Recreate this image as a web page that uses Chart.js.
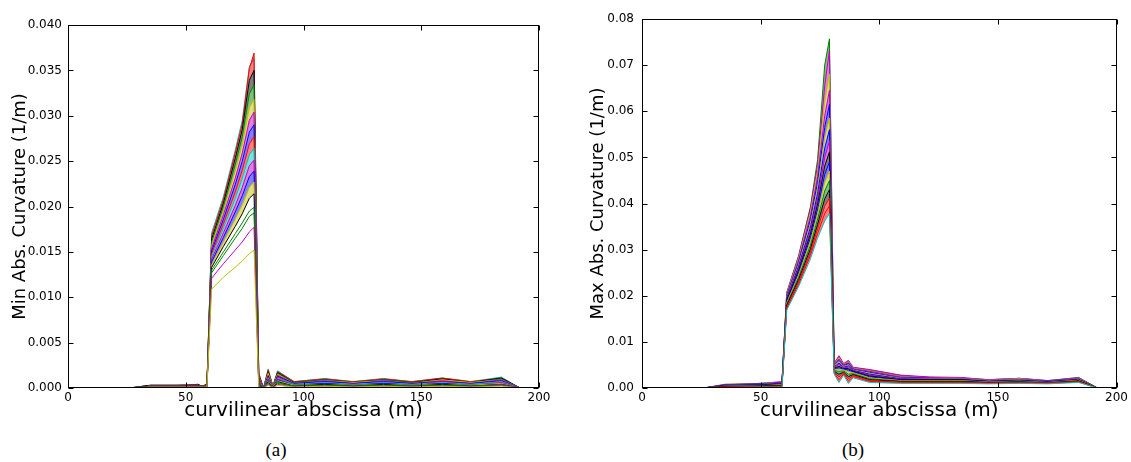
<!DOCTYPE html>
<html>
<head>
<meta charset="utf-8">
<script src="https://cdn.jsdelivr.net/npm/chart.js@4.4.1/dist/chart.umd.min.js"></script>
<style>
  html, body { margin: 0; padding: 0; background: #fff; }
  body { width: 1131px; height: 462px; position: relative; overflow: hidden; }
  .panel { position: absolute; top: 0; height: 430px; }
  .cap { position: absolute; top: 439px; font-family: "Liberation Serif", "DejaVu Serif", serif; font-size: 19px; color: #000; transform: translateX(-50%); }
</style>
</head>
<body>
<div class="panel" style="left:0;width:565px"><canvas id="chartA" width="565" height="430" style="width:565px;height:430px"></canvas></div>
<div class="panel" style="left:565px;width:566px"><canvas id="chartB" width="566" height="430" style="width:566px;height:430px"></canvas></div>
<div class="cap" style="left:276px">(a)</div>
<div class="cap" style="left:853px">(b)</div>
<script>
// abscissa nodes (m), shared by every curve
const abscissa = [0, 26, 35, 50, 55, 57, 59, 61, 66, 71, 74, 77, 79, 81, 83, 85, 87, 89, 96, 109, 121, 134, 146, 159, 171, 184, 192];

// matplotlib classic colours
const B = '#0000ff', G = '#008000', R = '#ff0000', C = '#00bfbf', M = '#bf00bf', Y = '#bfbf00', K = '#000000';

// (a) min abs. curvature, lowest curve first
const minCurvColors = [Y, M, G, G, K, Y, B, M, C, R, B, M, Y, G, K, R, C];
const minCurv = [
  [0,0,0.0001,0.0001,0.0001,0.0001,0.0001, 0.0109,0.0122,0.0133,0.0140,0.0148,0.0152, 0,0,0.0003,0,0.0003,0.0001,0.0002,0.0001,0.0002,0.0001,0.0002,0.0001,0.0002,0],
  [0,0,0.0001,0.0001,0.0001,0.0001,0.0001, 0.0121,0.0137,0.0152,0.0161,0.0172,0.0177, 0.0001,0,0.0004,0,0.0004,0.0001,0.0002,0.0001,0.0002,0.0001,0.0002,0.0001,0.0003,0],
  [0,0,0.0001,0.0001,0.0001,0.0001,0.0001, 0.0127,0.0146,0.0165,0.0176,0.0189,0.0193, 0.0002,0,0.0005,0,0.0005,0.0002,0.0003,0.0002,0.0003,0.0002,0.0003,0.0002,0.0003,0],
  [0,0,0.0001,0.0001,0.0001,0.0001,0.0001, 0.0130,0.0150,0.0170,0.0182,0.0195,0.0199, 0.0003,0,0.0006,0,0.0006,0.0002,0.0003,0.0002,0.0003,0.0002,0.0003,0.0002,0.0004,0],
  [0,0,0.0002,0.0002,0.0002,0.0002,0.0002, 0.0133,0.0156,0.0178,0.0192,0.0209,0.0214, 0.0004,0,0.0007,0,0.0007,0.0002,0.0004,0.0002,0.0004,0.0002,0.0004,0.0002,0.0004,0],
  [0,0,0.0002,0.0002,0.0002,0.0002,0.0002, 0.0136,0.0161,0.0186,0.0202,0.0221,0.0227, 0.0005,0,0.0008,0.0001,0.0008,0.0003,0.0004,0.0003,0.0004,0.0003,0.0004,0.0003,0.0005,0],
  [0,0,0.0002,0.0002,0.0002,0.0002,0.0002, 0.0139,0.0166,0.0194,0.0212,0.0233,0.0239, 0.0006,0,0.0009,0.0001,0.0009,0.0003,0.0005,0.0003,0.0005,0.0003,0.0005,0.0003,0.0005,0],
  [0,0,0.0002,0.0002,0.0002,0.0002,0.0002, 0.0142,0.0171,0.0201,0.0221,0.0245,0.0251, 0.0007,0,0.0010,0.0001,0.0010,0.0003,0.0005,0.0003,0.0005,0.0003,0.0005,0.0003,0.0006,0],
  [0,0,0.0002,0.0002,0.0002,0.0002,0.0002, 0.0145,0.0176,0.0209,0.0231,0.0257,0.0264, 0.0008,0,0.0011,0.0001,0.0011,0.0004,0.0006,0.0004,0.0006,0.0004,0.0006,0.0004,0.0007,0],
  [0,0,0.0002,0.0003,0.0003,0.0002,0.0003, 0.0148,0.0181,0.0216,0.0240,0.0269,0.0277, 0.0009,0,0.0012,0.0001,0.0012,0.0004,0.0006,0.0004,0.0006,0.0004,0.0007,0.0004,0.0007,0],
  [0,0,0.0002,0.0003,0.0003,0.0002,0.0003, 0.0151,0.0186,0.0224,0.0250,0.0282,0.0290, 0.0010,0,0.0013,0.0001,0.0013,0.0005,0.0007,0.0005,0.0007,0.0005,0.0007,0.0005,0.0008,0],
  [0,0,0.0002,0.0003,0.0003,0.0002,0.0003, 0.0154,0.0191,0.0231,0.0259,0.0295,0.0304, 0.0011,0,0.0014,0.0001,0.0014,0.0005,0.0008,0.0005,0.0008,0.0005,0.0008,0.0005,0.0009,0],
  [0,0,0.0002,0.0003,0.0003,0.0002,0.0003, 0.0157,0.0195,0.0239,0.0268,0.0309,0.0318, 0.0012,0,0.0016,0.0002,0.0015,0.0005,0.0008,0.0006,0.0008,0.0005,0.0009,0.0006,0.0009,0],
  [0,0,0.0002,0.0003,0.0003,0.0002,0.0003, 0.0161,0.0200,0.0246,0.0277,0.0324,0.0334, 0.0013,0,0.0017,0.0002,0.0016,0.0006,0.0009,0.0006,0.0009,0.0006,0.0009,0.0006,0.0010,0],
  [0,0,0.0003,0.0003,0.0004,0.0002,0.0004, 0.0164,0.0204,0.0253,0.0285,0.0339,0.0350, 0.0014,0,0.0018,0.0002,0.0017,0.0006,0.0009,0.0006,0.0009,0.0006,0.0010,0.0006,0.0011,0],
  [0,0,0.0003,0.0003,0.0004,0.0002,0.0004, 0.0168,0.0208,0.0259,0.0291,0.0352,0.0369, 0.0016,0,0.0020,0.0002,0.0018,0.0007,0.0010,0.0007,0.0010,0.0007,0.0011,0.0007,0.0011,0],
  [0,0,0.0003,0.0003,0.0004,0.0002,0.0004, 0.0171,0.0211,0.0262,0.0295,0.0354,0.0363, 0.0017,0,0.0021,0.0002,0.0019,0.0007,0.00105,0.0007,0.00105,0.0007,0.0011,0.0007,0.0012,0]
];

// (b) max abs. curvature, lowest curve first
const maxCurvColors = [C, R, R, K, G, Y, B, K, M, B, Y, B, M, Y, M, G];
const maxCurv = [
  [0,0,0.0001,0.0002,0.0002,0.0002,0.0002, 0.0169,0.0220,0.0280,0.0325,0.0362,0.0378, 0.0030,0.0012,0.0028,0.0010,0.0022,0.0012,0.0010,0.0010,0.0010,0.0009,0.0010,0.0009,0.0012,0],
  [0,0,0.0002,0.0003,0.0003,0.0003,0.0003, 0.0173,0.0225,0.0288,0.0335,0.0378,0.0395, 0.0032,0.0018,0.0030,0.0015,0.0025,0.0014,0.0012,0.0012,0.0012,0.0010,0.0011,0.0010,0.0013,0],
  [0,0,0.0002,0.0003,0.0004,0.0004,0.0004, 0.0176,0.0230,0.0295,0.0345,0.0394,0.0412, 0.0034,0.0024,0.0032,0.0020,0.0027,0.0016,0.0013,0.0013,0.0013,0.0011,0.0012,0.0011,0.0014,0],
  [0,0,0.0003,0.0004,0.0005,0.0005,0.0005, 0.0179,0.0235,0.0302,0.0355,0.0410,0.0430, 0.0036,0.0030,0.0034,0.0025,0.0029,0.0018,0.0014,0.0014,0.0014,0.0012,0.0013,0.0011,0.0015,0],
  [0,0,0.0003,0.0005,0.0006,0.0006,0.0006, 0.0182,0.0240,0.0310,0.0366,0.0427,0.0450, 0.0038,0.0036,0.0037,0.0030,0.0031,0.0020,0.0015,0.0015,0.0015,0.0012,0.0014,0.0012,0.0016,0],
  [0,0,0.0004,0.0005,0.0006,0.0007,0.0007, 0.0185,0.0245,0.0318,0.0377,0.0445,0.0470, 0.0040,0.0040,0.0039,0.0035,0.0033,0.0022,0.0016,0.0016,0.0016,0.0013,0.0015,0.0012,0.0017,0],
  [0,0,0.0004,0.0006,0.0007,0.0008,0.0008, 0.0187,0.0250,0.0326,0.0388,0.0463,0.0490, 0.0042,0.0044,0.0041,0.0039,0.0035,0.0024,0.0017,0.0017,0.0017,0.0014,0.0016,0.0013,0.0018,0],
  [0,0,0.0005,0.0006,0.0008,0.0008,0.0009, 0.0190,0.0255,0.0334,0.0399,0.0481,0.0512, 0.0043,0.0047,0.0042,0.0042,0.0036,0.0026,0.0018,0.0018,0.0018,0.0014,0.0016,0.0013,0.0018,0],
  [0,0,0.0005,0.0007,0.0008,0.0009,0.0010, 0.0192,0.0259,0.0341,0.0410,0.0500,0.0535, 0.0045,0.0051,0.0044,0.0045,0.0037,0.0028,0.0019,0.0019,0.0018,0.0015,0.0017,0.0014,0.0019,0],
  [0,0,0.0006,0.0008,0.0009,0.0010,0.0010, 0.0195,0.0264,0.0349,0.0422,0.0520,0.0560, 0.0046,0.0054,0.0045,0.0048,0.0038,0.0030,0.0020,0.0019,0.0019,0.0015,0.0017,0.0014,0.0019,0],
  [0,0,0.0006,0.0008,0.0010,0.0010,0.0011, 0.0197,0.0268,0.0357,0.0434,0.0542,0.0585, 0.0048,0.0057,0.0047,0.0050,0.0039,0.0032,0.0021,0.0020,0.0020,0.0016,0.0018,0.0014,0.0020,0],
  [0,0,0.0007,0.0009,0.0010,0.0011,0.0012, 0.0199,0.0272,0.0365,0.0446,0.0565,0.0615, 0.0049,0.0060,0.0048,0.0053,0.0040,0.0034,0.0022,0.0021,0.0020,0.0016,0.0018,0.0015,0.0020,0],
  [0,0,0.0007,0.0009,0.0011,0.0012,0.0012, 0.0202,0.0277,0.0373,0.0458,0.0590,0.0645, 0.0051,0.0063,0.0050,0.0055,0.0042,0.0036,0.0024,0.0022,0.0021,0.0017,0.0019,0.0015,0.0021,0],
  [0,0,0.0008,0.0010,0.0011,0.0012,0.0013, 0.0204,0.0281,0.0381,0.0470,0.0620,0.0680, 0.0052,0.0066,0.0051,0.0057,0.0043,0.0037,0.0025,0.0022,0.0021,0.0017,0.0020,0.0015,0.0021,0],
  [0,0,0.0008,0.0010,0.0012,0.0013,0.0014, 0.0206,0.0285,0.0389,0.0483,0.0655,0.0732, 0.0054,0.0070,0.0053,0.0060,0.0045,0.0040,0.0028,0.0024,0.0023,0.0018,0.0021,0.0016,0.0022,0],
  [0,0,0.0007,0.0010,0.0012,0.0012,0.0013, 0.0207,0.0287,0.0393,0.0495,0.0700,0.0757, 0.0053,0.0068,0.0052,0.0058,0.0044,0.0038,0.0026,0.0023,0.0022,0.0018,0.0021,0.0016,0.0023,0]
];

const xTicks = [0, 50, 100, 150, 200];
const FONT = 'DejaVu Sans';

// black frame on all four sides, ticks pointing inward (matplotlib classic)
const frameTicks = {
  id: 'frameTicks',
  afterDraw(chart) {
    const { ctx, chartArea: a, scales } = chart;
    const L = Math.round(a.left) + 0.5, Rt = Math.round(a.right) - 0.5;
    const T = Math.round(a.top) + 0.5, Bt = Math.round(a.bottom) - 0.5;
    ctx.save();
    ctx.strokeStyle = '#000';
    ctx.lineWidth = 1;
    ctx.strokeRect(L, T, Rt - L, Bt - T);
    ctx.beginPath();
    scales.x.ticks.forEach(t => {
      const px = Math.round(scales.x.getPixelForValue(t.value)) + 0.5;
      ctx.moveTo(px, Bt); ctx.lineTo(px, Bt - 5);
      ctx.moveTo(px, T); ctx.lineTo(px, T + 5);
    });
    scales.y.ticks.forEach(t => {
      const py = Math.round(scales.y.getPixelForValue(t.value)) + 0.5;
      ctx.moveTo(L, py); ctx.lineTo(L + 5, py);
      ctx.moveTo(Rt, py); ctx.lineTo(Rt - 5, py);
    });
    ctx.stroke();
    ctx.restore();
  }
};

function makeSets(series, colors, fillFrom) {
  return series.map((vals, i) => ({
    data: abscissa.map((x, j) => ({ x: x, y: vals[j] })),
    borderColor: colors[i],
    backgroundColor: colors[i] + '80',
    fill: i >= fillFrom ? '-1' : false,
    borderWidth: 1,
    pointRadius: 0,
    tension: 0
  }));
}

function makeChart(id, series, colors, fillFrom, opt) {
  return new Chart(document.getElementById(id), {
    type: 'line',
    data: { datasets: makeSets(series, colors, fillFrom) },
    options: {
      responsive: false,
      animation: false,
      layout: { padding: { top: opt.top, right: opt.right, left: 0, bottom: 0 } },
      plugins: { legend: { display: false }, tooltip: { enabled: false } },
      scales: {
        x: {
          type: 'linear', min: 0, max: 200,
          grid: { display: false, drawTicks: false }, border: { display: false },
          afterBuildTicks: s => { s.ticks = xTicks.map(v => ({ value: v })); },
          ticks: { padding: 3, color: '#000', maxRotation: 0, font: { family: FONT, size: 12 } },
          title: { display: true, text: 'curvilinear abscissa (m)', color: '#000',
                   font: { family: FONT, size: 20 }, padding: { top: 0, bottom: 7 } },
          afterFit: s => { s.height = 42; }
        },
        y: {
          type: 'linear', min: 0, max: opt.yMax,
          grid: { display: false, drawTicks: false }, border: { display: false },
          afterBuildTicks: s => { s.ticks = opt.yTicks.map(v => ({ value: v })); },
          ticks: { padding: opt.tickPad, color: '#000', font: { family: FONT, size: 12 },
                   callback: v => v.toFixed(opt.digits) },
          title: { display: true, text: opt.yTitle, color: '#000',
                   font: { family: FONT, size: 18 }, padding: { top: opt.titlePad, bottom: 0 } },
          afterFit: s => { s.width = opt.yWidth; }
        }
      }
    },
    plugins: [frameTicks]
  });
}

const minTicks = [0, 0.005, 0.010, 0.015, 0.020, 0.025, 0.030, 0.035, 0.040];
const maxTicks = [0, 0.01, 0.02, 0.03, 0.04, 0.05, 0.06, 0.07, 0.08];

makeChart('chartA', minCurv, minCurvColors, 5, {
  top: 25, right: 26, yWidth: 68, yMax: 0.04, yTicks: minTicks, digits: 3,
  tickPad: 6, titlePad: 10, yTitle: 'Min Abs. Curvature (1/m)'
});
makeChart('chartB', maxCurv, maxCurvColors, 1, {
  top: 19, right: 13, yWidth: 77, yMax: 0.08, yTicks: maxTicks, digits: 2,
  tickPad: 8, titlePad: 23, yTitle: 'Max Abs. Curvature (1/m)'
});
</script>
</body>
</html>
